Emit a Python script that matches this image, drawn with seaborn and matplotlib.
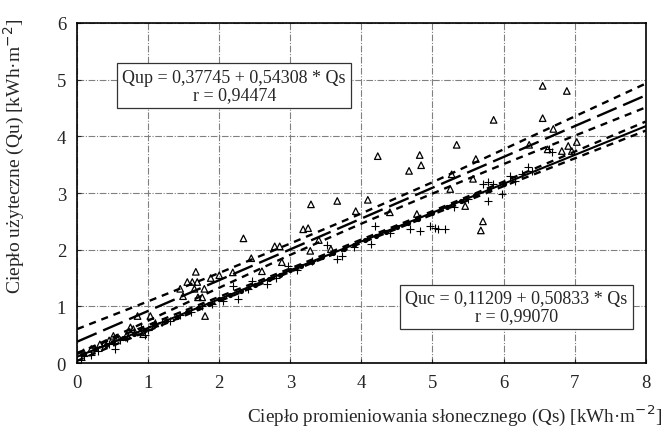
import numpy as np
import pandas as pd
import matplotlib
matplotlib.use('Agg')
import matplotlib.pyplot as plt
import seaborn as sns

# --- data ---
# Qup measurements (triangles)
qup_x = [0.09, 0.20, 0.32, 0.45, 0.51, 0.56, 0.70, 0.75, 0.79, 0.85, 0.89, 0.93, 1.03, 1.10,
         1.45, 1.49, 1.55, 1.62, 1.65, 1.67, 1.69, 1.70, 1.76, 1.79, 1.80, 1.88, 2.00, 2.19,
         2.34, 2.45, 2.60, 2.78, 2.85, 2.88, 3.18, 3.25, 3.28, 3.29, 3.40, 3.57, 3.66, 3.92,
         4.09, 4.23, 4.40, 4.67, 4.78, 4.82, 4.84, 5.25, 5.27, 5.34, 5.46, 5.57, 5.61, 5.68,
         5.71, 5.86, 6.36, 6.55, 6.55, 6.62, 6.70, 6.82, 6.89, 6.91, 6.96, 7.03]
qup_y = [0.19, 0.25, 0.33, 0.40, 0.48, 0.45, 0.50, 0.63, 0.60, 0.83, 0.55, 0.51, 0.83, 0.70,
         1.31, 1.18, 1.43, 1.43, 1.31, 1.61, 1.43, 1.16, 1.16, 1.31, 0.83, 1.50, 1.55, 1.60,
         2.20, 1.85, 1.62, 2.06, 2.06, 1.78, 2.36, 2.38, 1.98, 2.80, 2.17, 2.01, 2.86, 2.68,
         2.88, 3.65, 2.66, 3.39, 2.63, 3.67, 3.49, 3.07, 3.33, 3.85, 2.77, 3.25, 3.60, 2.34,
         2.50, 4.29, 3.85, 4.89, 4.32, 3.77, 4.13, 3.74, 4.80, 3.83, 3.74, 3.90]

# Quc measurements (crosses)
quc_x = [0.05, 0.10, 0.20, 0.30, 0.35, 0.45, 0.53, 0.60, 0.70, 0.80, 0.90, 0.95, 1.00, 1.05,
         1.10, 1.20, 1.30, 1.45, 1.60, 1.75, 1.90, 2.05, 2.19, 2.26, 2.40, 2.46, 2.67, 2.80,
         2.97, 3.10, 3.30, 3.52, 3.66, 3.73, 3.90, 4.13, 4.19, 4.40, 4.68, 4.82, 4.96, 5.03,
         5.08, 5.18, 5.30, 5.50, 5.71, 5.78, 5.78, 5.85, 5.98, 6.09, 6.16, 6.26, 6.34, 6.40,
         6.64, 6.68]
quc_y = [0.05, 0.12, 0.15, 0.22, 0.30, 0.33, 0.25, 0.40, 0.45, 0.55, 0.62, 0.50, 0.58, 0.65,
         0.70, 0.72, 0.75, 0.85, 0.90, 1.00, 1.05, 1.10, 1.36, 1.13, 1.30, 1.45, 1.39, 1.50,
         1.71, 1.65, 1.80, 2.08, 1.83, 1.89, 2.05, 2.10, 2.42, 2.30, 2.36, 2.33, 2.42, 2.38,
         2.36, 2.36, 2.75, 2.90, 3.16, 3.19, 2.86, 3.16, 2.98, 3.30, 3.21, 3.33, 3.46, 3.39,
         3.77, 3.72]

# filled dots lying on the Quc fit line
dot_x = [0.10, 0.25, 0.40, 0.50, 0.65, 0.80, 0.95, 1.10, 1.25, 1.40, 1.55, 1.70, 1.85, 2.00,
         2.15, 2.30, 2.50, 2.70, 2.85, 3.00, 3.15, 3.30, 3.45, 3.60, 3.75, 3.90, 4.05, 4.20,
         4.35, 4.50, 4.65, 4.80, 5.00, 5.20, 5.40, 5.60, 5.80, 6.00]
dot_y = [0.16, 0.24, 0.32, 0.37, 0.44, 0.52, 0.59, 0.67, 0.75, 0.82, 0.90, 0.98, 1.05, 1.13,
         1.20, 1.28, 1.38, 1.48, 1.56, 1.64, 1.71, 1.79, 1.87, 1.94, 2.02, 2.09, 2.17, 2.25,
         2.32, 2.40, 2.47, 2.55, 2.65, 2.75, 2.86, 2.96, 3.06, 3.16]

# regression coefficients (from the annotation boxes)
qup_a, qup_b, qup_r = 0.37745, 0.54308, 0.94474
quc_a, quc_b, quc_r = 0.11209, 0.50833, 0.99070

# confidence bands read at Qs = 0..8
band_x = [0, 1, 2, 3, 4, 5, 6, 7, 8]
qup_hi = [0.60, 1.09, 1.59, 2.11, 2.64, 3.19, 3.77, 4.35, 4.93]
qup_lo = [0.16, 0.75, 1.33, 1.91, 2.46, 2.99, 3.51, 4.01, 4.51]
quc_hi = [0.18, 0.67, 1.17, 1.67, 2.18, 2.68, 3.20, 3.73, 4.26]
quc_lo = [0.04, 0.57, 1.09, 1.61, 2.12, 2.62, 3.12, 3.61, 4.10]

fit_x = np.array([0, 8])

sns.set_style('ticks')
plt.rcParams['font.family'] = ['Liberation Serif', 'DejaVu Serif']

fig = plt.figure(figsize=(6.65, 4.35), dpi=100)
ax = fig.add_axes([0.116, 0.163, 0.855, 0.782])

# bands
for band in (qup_hi, qup_lo, quc_hi, quc_lo):
    sns.lineplot(x=band_x, y=band, ax=ax, color='black', lw=1.7, linestyle=(0, (3, 2.5)))

# fit lines
sns.lineplot(x=fit_x, y=qup_a + qup_b * fit_x, ax=ax, color='black', lw=1.7,
             linestyle=(0, (9, 3)))
sns.lineplot(x=fit_x, y=quc_a + quc_b * fit_x, ax=ax, color='black', lw=1.5)

# points
sns.scatterplot(x=qup_x, y=qup_y, ax=ax, marker='^', s=22, facecolor='none',
                edgecolor='black', linewidth=0.9)
sns.scatterplot(x=quc_x, y=quc_y, ax=ax, marker='+', s=40, color='black', linewidth=0.8)
sns.scatterplot(x=dot_x, y=dot_y, ax=ax, marker='o', s=14, color='black', linewidth=0)

ax.set_xlim(0, 8)
ax.set_ylim(0, 6)
ax.set_xticks(range(0, 9))
ax.set_yticks(range(0, 7))
ax.grid(True, color='#808080', linestyle=(0, (6, 1.5, 1, 1.5)), linewidth=0.8)
ax.set_axisbelow(True)
for s in ax.spines.values():
    s.set_linewidth(1.2)
    s.set_color('black')
ax.tick_params(direction='in', length=3, labelsize=13.5, pad=8)

box = dict(boxstyle='square,pad=0.3', facecolor='white', edgecolor='#333333', linewidth=0.9)
ax.text(2.21, 4.89, 'Qup = 0,37745 + 0,54308 * Qs\nr = 0,94474', ha='center', va='center',
        fontsize=13, bbox=box, linespacing=1.0)
ax.text(6.18, 0.99, 'Quc = 0,11209 + 0,50833 * Qs\nr = 0,99070', ha='center', va='center',
        fontsize=13, bbox=box, linespacing=1.0)

fig.text(0.996, 0.016, 'Ciepło promieniowania słonecznego (Qs) [kWh·m$^{-2}$]',
         ha='right', va='bottom', fontsize=13.8)
fig.text(0.022, 0.64, 'Ciepło użyteczne (Qu) [kWh·m$^{-2}$]', rotation=90,
         ha='center', va='center', fontsize=14)

fig.savefig('out.png', dpi=100)
